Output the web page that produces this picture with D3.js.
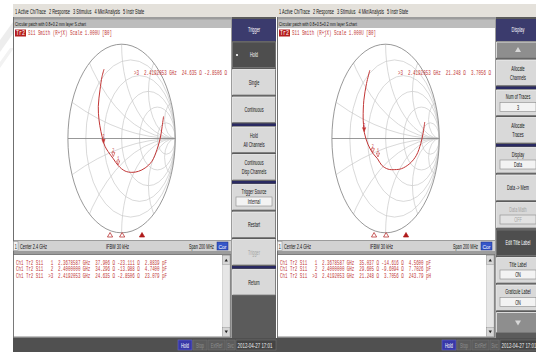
<!DOCTYPE html>
<html>
<head>
<meta charset="utf-8">
<script src="https://cdn.jsdelivr.net/npm/d3@7"></script>
<style>
  body { margin: 0; background: #fff; }
  svg { display: block; }
  text { white-space: pre; }
</style>
</head>
<body>
<svg id="chart" width="536" height="352"></svg>
<script>
// ---- data ----
const menuItems = ["1 Active Ch/Trace", "2 Response", "3 Stimulus", "4 Mkr/Analysis", "5 Instr State"];
const titleLeft = "Circular patch with 0.8+0.2 mm layer S.chart";
const titleRight = "Circular patch with 0.8+0.5+0.2 mm layer S.chart";
const traceLabel = "S11 Smith (R+jX) Scale 1.000U [B0]";
const statusItems = ["Center 2.4 GHz", "IFBW 30 kHz", "Span 200 MHz"];

// Smith grid (normalised r and x)
const gridR = [0.2, 0.5, 1, 2, 5];
const gridX = [0.2, 0.5, 1, 2, 5];

// S11 trace, reflection coefficient (re, im), from 2.3 GHz upwards
const traceLeft = [
  [0.781, 0.234], [0.751, 0.111], [0.720, 0.005], [0.658, -0.119], [0.564, -0.242],
  [0.439, -0.312], [0.314, -0.348], [0.191, -0.359], [0.065, -0.345], [-0.062, -0.288],
  [-0.154, -0.215], [-0.250, -0.140], [-0.310, -0.082], [-0.345, -0.020], [-0.385, 0.075],
  [-0.421, 0.199], [-0.434, 0.340], [-0.402, 0.516], [-0.364, 0.657], [-0.327, 0.735]
];
const traceRight = [
  [0.729, 0.175], [0.697, 0.052], [0.654, -0.054], [0.574, -0.178], [0.450, -0.266],
  [0.296, -0.320], [0.171, -0.330], [0.046, -0.325], [-0.070, -0.285], [-0.150, -0.215],
  [-0.240, -0.155], [-0.330, -0.060], [-0.395, 0.060], [-0.412, 0.150], [-0.418, 0.228],
  [-0.405, 0.406], [-0.355, 0.583], [-0.294, 0.724]
];

// marker impedances (ohm): R, X
const markerZLeft = [[37.906, -23.111], [34.296, -13.988], [24.635, -2.8506]];
const markerZRight = [[35.037, -14.616], [29.605, -9.6094], [21.248, 3.7056]];
const markerNames = ["1", "2", "3"];
// stimulus-bar marker positions, in chart units (-1..1)
const stimMarks = [-0.215, 0.01, 0.38];

const activeLeft = ">3  2.4192053 GHz  24.635 \u03a9 -2.8506 \u03a9";
const activeRight = ">3  2.4192053 GHz  21.248 \u03a9  3.7056 \u03a9";

const rowsLeft = [
  "Ch1 Tr2 S11   1  2.3678587 GHz  37.906 \u03a9 -23.111 \u03a9  2.8839 pF",
  "Ch1 Tr2 S11   2  2.4000000 GHz  34.296 \u03a9 -13.988 \u03a9  4.7400 pF",
  "Ch1 Tr2 S11  >3  2.4192053 GHz  24.635 \u03a9 -2.8506 \u03a9  23.079 pF"
];
const rowsRight = [
  "Ch1 Tr2 S11   1  2.3678587 GHz  35.037 \u03a9 -14.616 \u03a9  4.5600 pF",
  "Ch1 Tr2 S11   2  2.4000000 GHz  29.605 \u03a9 -9.6094 \u03a9  7.7026 pF",
  "Ch1 Tr2 S11  >3  2.4192053 GHz  21.248 \u03a9  3.7056 \u03a9  243.79 pH"
];

const triggerKeys = [
  { t: "Trigger", kind: "head" },
  { t: "Hold", kind: "sel" },
  { t: "Single" },
  { t: "Continuous" },
  { kind: "sep" },
  { t: "Hold|All Channels" },
  { t: "Continuous|Disp Channels" },
  { kind: "sep" },
  { t: "Trigger Source", box: "Internal" },
  { t: "Restart" },
  { t: "Trigger", kind: "dis" },
  { kind: "sep" },
  { t: "Return" }
];
const displayKeys = [
  { t: "Display", kind: "head" },
  { kind: "up" },
  { t: "Allocate|Channels" },
  { kind: "sep" },
  { t: "Num of Traces", box: "3" },
  { t: "Allocate|Traces" },
  { kind: "sep" },
  { t: "Display", box: "Data" },
  { t: "Data -> Mem" },
  { t: "Data Math", box: "OFF", kind: "dis" },
  { t: "Edit Title Label", kind: "sel" },
  { t: "Title Label", box: "ON" },
  { t: "Graticule Label", box: "ON" },
  { kind: "down" }
];
const hwStatus = ["Hold", "Stop", "ExtRef", "Svc"];
const clockText = "2012-04-27 17:01";

// ---- drawing ----
const SQ = 0.6;   // the screenshot is squeezed horizontally
const RED = "#c23636";
const SANS = "'Liberation Sans', Arial, sans-serif";
const MONO = "'Liberation Mono', 'DejaVu Sans Mono', monospace";
const svg = d3.select("#chart");

const txt = (g, x, y, s, o = {}) => {
  const t = g.append("text")
    .attr("x", x).attr("y", y)
    .attr("font-family", o.mono ? MONO : SANS)
    .attr("font-size", o.fs || 7)
    .attr("fill", o.fill || "#111")
    .attr("text-anchor", o.anchor || "start")
    .text(s);
  const w = t.node().getComputedTextLength();
  t.attr("textLength", o.width || w * (o.k || SQ)).attr("lengthAdjust", "spacingAndGlyphs");
  return t;
};

// faint watermark top-left
svg.append("path").attr("d", "M0,40 L26,4 L34,4 L0,52 Z").attr("fill", "#ededed");
svg.append("path").attr("d", "M0,62 L10,48 L14,48 L0,68 Z").attr("fill", "#f2f2f2");

const drawSoftkeys = (g, keys, x0, w) => {
  g.append("rect").attr("x", x0).attr("y", 17).attr("width", w).attr("height", 321).attr("fill", "#5b5b5b");
  let y = 19;
  keys.forEach(k => {
    if (k.kind === "head") {
      g.append("rect").attr("x", x0).attr("y", y).attr("width", w).attr("height", 22).attr("fill", "#3b3b6d");
      txt(g, x0 + w / 2, y + 13, k.t, { fill: "#fff", anchor: "middle", fs: 6.5 });
      y += 23;
      return;
    }
    if (k.kind === "sep") {
      g.append("rect").attr("x", x0).attr("y", y - 1).attr("width", w).attr("height", 2.5).attr("fill", "#2a2a62");
      y += 2.5;
      return;
    }
    const h = k.kind === "up" ? 16 : k.kind === "down" ? 20 : 25.5;
    const sel = k.kind === "sel";
    g.append("rect").attr("x", x0 + 0.5).attr("y", y).attr("width", w - 1).attr("height", h)
      .attr("fill", sel ? "#4e4e4e" : k.kind === "up" || k.kind === "down" ? "#8e8e8e" : "#d9d9d9");
    g.append("path").attr("d", `M${x0 + 0.5},${y + h} V${y} H${x0 + w - 0.5}`)
      .attr("fill", "none").attr("stroke", sel ? "#777" : "#f4f4f4").attr("stroke-width", 0.8);
    g.append("path").attr("d", `M${x0 + 0.5},${y + h} H${x0 + w - 0.5} V${y}`)
      .attr("fill", "none").attr("stroke", "#7a7a7a").attr("stroke-width", 0.8);
    if (k.kind === "up" || k.kind === "down") {
      const cxA = x0 + w / 2, cyA = y + h / 2;
      const d = k.kind === "up"
        ? `M${cxA - 3},${cyA + 2} L${cxA + 3},${cyA + 2} L${cxA},${cyA - 3} Z`
        : `M${cxA - 3},${cyA - 2} L${cxA + 3},${cyA - 2} L${cxA},${cyA + 3} Z`;
      g.append("path").attr("d", d).attr("fill", "#d8d8d8");
      y += h + 2;
      return;
    }
    const col = sel ? "#fff" : k.kind === "dis" ? "#a4a4a4" : "#111";
    const lines = k.t.split("|");
    if (k.box) {
      txt(g, x0 + w / 2, y + 9, lines[0], { fill: col, anchor: "middle", fs: 6.3 });
      g.append("rect").attr("x", x0 + 4).attr("y", y + 12.5).attr("width", w - 8).attr("height", 9)
        .attr("fill", k.kind === "dis" ? "#e2e2e2" : "#f3f3f3").attr("stroke", "#8a8a8a").attr("stroke-width", 0.6);
      txt(g, x0 + w / 2, y + 19.5, k.box, { fill: col, anchor: "middle", fs: 6.3 });
    } else if (lines.length === 2) {
      txt(g, x0 + w / 2, y + 10.5, lines[0], { fill: col, anchor: "middle", fs: 6.3 });
      txt(g, x0 + w / 2, y + 19.5, lines[1], { fill: col, anchor: "middle", fs: 6.3 });
    } else {
      txt(g, x0 + w / 2, y + 15, lines[0], { fill: col, anchor: "middle", fs: 6.3 });
    }
    if (sel && k.t === "Hold") {
      g.append("circle").attr("cx", x0 + 5).attr("cy", y + 13).attr("r", 1.1).attr("fill", "#fff");
    }
    y += h + 2;
  });
};

const drawSmith = (g, trace, markerZ, active) => {
  const cx = 121.6, cy = 138.5, rx = 53.7, ry = 94.3;
  const sx = d3.scaleLinear().domain([-1, 1]).range([cx - rx, cx + rx]);
  const sy = d3.scaleLinear().domain([-1, 1]).range([cy + ry, cy - ry]);
  const kx = sx(1) - sx(0), ky = sy(0) - sy(1);
  const id = "clip" + Math.random().toString(36).slice(2, 8);
  g.append("clipPath").attr("id", id).append("ellipse")
    .attr("cx", sx(0)).attr("cy", sy(0)).attr("rx", kx).attr("ry", ky);
  const grid = g.append("g").attr("clip-path", `url(#${id})`)
    .attr("fill", "none").attr("stroke", "#c8c8c8").attr("stroke-width", 0.7);
  grid.selectAll(".rc").data(gridR).enter().append("ellipse")
    .attr("cx", r => sx(r / (1 + r))).attr("cy", sy(0))
    .attr("rx", r => kx / (1 + r)).attr("ry", r => ky / (1 + r));
  const xs = gridX.flatMap(x => [x, -x]);
  grid.selectAll(".xc").data(xs).enter().append("ellipse")
    .attr("cx", sx(1)).attr("cy", x => sy(1 / x))
    .attr("rx", x => kx / Math.abs(x)).attr("ry", x => ky / Math.abs(x));
  g.append("line").attr("x1", sx(-1)).attr("x2", sx(1)).attr("y1", sy(0)).attr("y2", sy(0))
    .attr("stroke", "#8c8c8c").attr("stroke-width", 0.9);
  g.append("ellipse").attr("cx", sx(0)).attr("cy", sy(0)).attr("rx", kx).attr("ry", ky)
    .attr("fill", "none").attr("stroke", "#8c8c8c").attr("stroke-width", 0.9);

  const line = d3.line().x(d => sx(d[0])).y(d => sy(d[1])).curve(d3.curveCatmullRom.alpha(0.5));
  g.append("path").datum(trace).attr("d", line)
    .attr("fill", "none").attr("stroke", RED).attr("stroke-width", 1);

  // markers from impedance: gamma = (z-1)/(z+1)
  const gam = ([R, X]) => {
    const a = R / 50, b = X / 50;
    const den = (a + 1) * (a + 1) + b * b;
    return [((a - 1) * (a + 1) + b * b) / den, (b * (a + 1) - (a - 1) * b) / den];
  };
  markerZ.forEach((z, i) => {
    const [u, v] = gam(z);
    const px = sx(u), py = sy(v);
    g.append("path").attr("d", `M${px - 1.6},${py - 4} L${px + 1.6},${py - 4} L${px},${py} Z`)
      .attr("fill", i === 2 ? RED : "none").attr("stroke", RED).attr("stroke-width", 0.6);
    txt(g, px, py - 5, markerNames[i], { fill: RED, anchor: "middle", fs: 5.5, mono: true });
  });

  txt(g, 134, 75, active, { fill: RED, fs: 7, mono: true, width: 93 });

  // stimulus position markers below the chart
  stimMarks.forEach((m, i) => {
    const px = sx(m);
    g.append("path").attr("d", `M${px - 2.6},237 L${px + 2.6},237 L${px},232.5 Z`)
      .attr("fill", i === 2 ? "#b01a1a" : "#fff").attr("stroke", "#b01a1a").attr("stroke-width", 0.7);
  });
};

const drawPanel = (ox, cfg) => {
  const g = svg.append("g").attr("transform", `translate(${ox},0)`);
  // menu bar
  g.append("rect").attr("x", 13).attr("y", 4).attr("width", 264).attr("height", 13).attr("fill", "#e4e1db");
  let mx = 15;
  menuItems.forEach(m => {
    const t = txt(g, mx, 14, m, { fs: 6.8, k: 0.58 });
    mx += +t.attr("textLength") + 3;
  });
  // panel background
  g.append("rect").attr("x", 13).attr("y", 17).attr("width", 219).attr("height", 321).attr("fill", "#9c9c9c");
  // title bar
  g.append("rect").attr("x", 13).attr("y", 19.5).attr("width", 218).attr("height", 8.5).attr("fill", "#bdbdbd");
  txt(g, 15, 26.3, cfg.title, { fs: 6, k: 0.6 });
  // chart area
  g.append("rect").attr("x", 13.5).attr("y", 28).attr("width", 217.5).attr("height", 212).attr("fill", "#fff");
  g.append("line").attr("x1", 13.5).attr("x2", 13.5).attr("y1", 17).attr("y2", 338).attr("stroke", "#6f6f6f");
  // trace label
  g.append("rect").attr("x", 15).attr("y", 29.5).attr("width", 11).attr("height", 7).attr("fill", "#b51e1e");
  txt(g, 20.5, 35.4, "Tr2", { fill: "#fff", anchor: "middle", fs: 6.5, mono: true, width: 9 });
  txt(g, 28, 35.4, traceLabel, { fill: RED, fs: 7, mono: true, width: 84 });

  drawSmith(g, cfg.trace, cfg.markers, cfg.active);

  // channel status bar
  g.append("rect").attr("x", 13.5).attr("y", 241).attr("width", 217.5).attr("height", 10).attr("fill", "#d2d2d2");
  g.append("rect").attr("x", 13.5).attr("y", 241.5).attr("width", 4.5).attr("height", 9).attr("fill", "#f4f4f4").attr("stroke", "#888").attr("stroke-width", 0.5);
  txt(g, 15.8, 249, "1", { fs: 6.3, anchor: "middle" });
  txt(g, 20, 249, statusItems[0], { fs: 6.3, width: 27 });
  txt(g, 117.5, 249, statusItems[1], { fs: 6.3, anchor: "middle", width: 23 });
  txt(g, 214, 249, statusItems[2], { fs: 6.3, anchor: "end", width: 25 });
  g.append("rect").attr("x", 217).attr("y", 242).attr("width", 11).attr("height", 8).attr("fill", "#3556c8").attr("stroke", "#1c2f80").attr("stroke-width", 0.5);
  txt(g, 222.5, 248.6, "Cor", { fs: 5.8, anchor: "middle", fill: "#fff", width: 8 });

  // marker table
  g.append("rect").attr("x", 13.5).attr("y", 254.5).attr("width", 217).attr("height", 82.5)
    .attr("fill", "#fff").attr("stroke", "#6a6a6a").attr("stroke-width", 0.8);
  g.append("rect").attr("x", 222.5).attr("y", 255.5).attr("width", 7.5).attr("height", 81).attr("fill", "#e6e6e6").attr("stroke", "#aaa").attr("stroke-width", 0.4);
  g.append("rect").attr("x", 222.5).attr("y", 255.5).attr("width", 7.5).attr("height", 9).attr("fill", "#d6d6d6").attr("stroke", "#888").attr("stroke-width", 0.4);
  g.append("rect").attr("x", 222.5).attr("y", 327.5).attr("width", 7.5).attr("height", 9).attr("fill", "#d6d6d6").attr("stroke", "#888").attr("stroke-width", 0.4);
  g.append("path").attr("d", "M224.6,261.5 L227.9,261.5 L226.25,258.7 Z").attr("fill", "#222");
  g.append("path").attr("d", "M224.6,330.5 L227.9,330.5 L226.25,333.3 Z").attr("fill", "#222");
  cfg.rows.forEach((r, i) => {
    txt(g, 16, 264.5 + i * 6.8, r, { fill: RED, fs: 6.6, mono: true, width: cfg.rowW });
  });

  // instrument status bar
  g.append("rect").attr("x", 13).attr("y", 338).attr("width", 264).attr("height", 14).attr("fill", "#505050");
  const hx = [178, 193, 208, 226];
  const hw = [14, 14, 17, 9];
  hwStatus.forEach((s, i) => {
    g.append("rect").attr("x", hx[i]).attr("y", 340).attr("width", hw[i]).attr("height", 10)
      .attr("fill", i === 0 ? "#3838a8" : "#5c5c5c").attr("stroke", i === 0 ? "#6b6bd0" : "#747474").attr("stroke-width", 0.5);
    txt(g, hx[i] + hw[i] / 2, 347.6, s, { fs: 6.5, anchor: "middle", fill: i === 0 ? "#fff" : "#8e8e8e" });
  });
  g.append("rect").attr("x", 236).attr("y", 340).attr("width", 40).attr("height", 10).attr("fill", "#444").attr("stroke", "#777").attr("stroke-width", 0.5);
  txt(g, 237.5, 347.6, clockText, { fs: 6.5, fill: "#eee", width: 35 });

  drawSoftkeys(g, cfg.keys, 232, 44);
};

drawPanel(0, { title: titleLeft, trace: traceLeft, markers: markerZLeft, active: activeLeft, rows: rowsLeft, rowW: 151, keys: triggerKeys });
drawPanel(264, { title: titleRight, trace: traceRight, markers: markerZRight, active: activeRight, rows: rowsRight, rowW: 151, keys: displayKeys });
</script>
</body>
</html>
